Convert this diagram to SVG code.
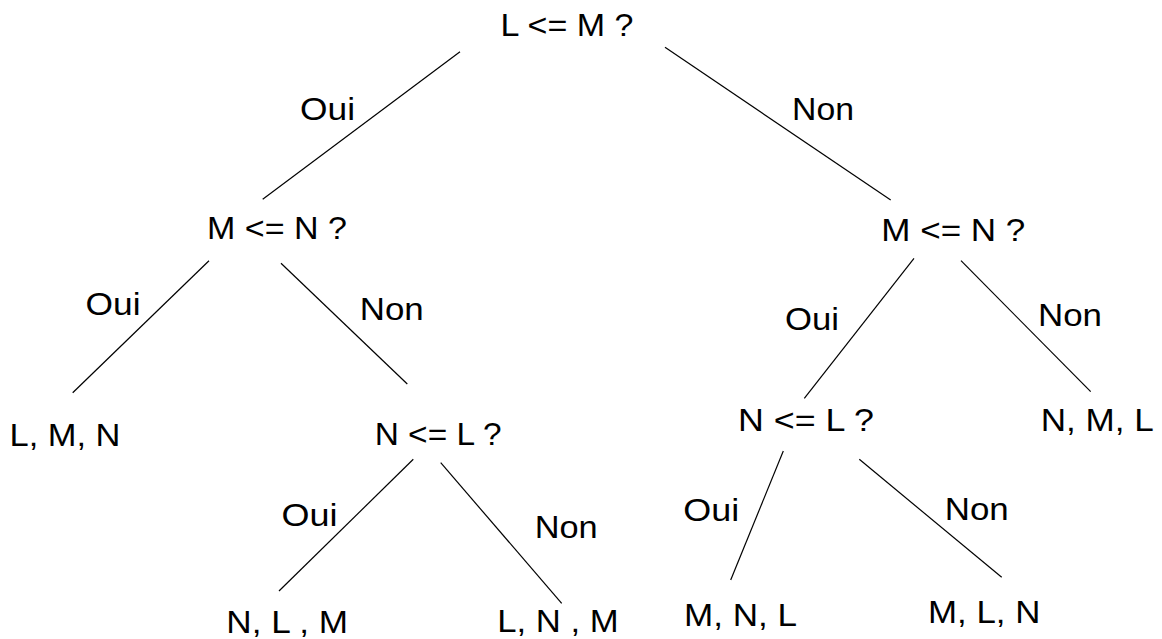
<svg xmlns="http://www.w3.org/2000/svg" width="1162" height="639" viewBox="0 0 1162 639">
<style>
text{font-family:"Liberation Sans",Arial,sans-serif;font-size:31px;fill:#000}
.c line{stroke:#000;stroke-width:1.2;fill:none}
</style>
<rect width="1162" height="639" fill="#fff"/>
<g class="c" id="connectors">
<line x1="460" y1="51.7" x2="262.7" y2="199.3"/>
<line x1="665" y1="47.3" x2="890.7" y2="200"/>
<line x1="209" y1="260.7" x2="72.7" y2="392.7"/>
<line x1="281" y1="263.3" x2="407.3" y2="384"/>
<line x1="413.3" y1="459.3" x2="279" y2="591"/>
<line x1="440.7" y1="462.7" x2="561.7" y2="603.3"/>
<line x1="914" y1="258.3" x2="804.3" y2="398.3"/>
<line x1="961" y1="260.7" x2="1090.7" y2="391.7"/>
<line x1="783.3" y1="451" x2="730.7" y2="580"/>
<line x1="859.3" y1="459.3" x2="1001.7" y2="577.3"/>
</g>
<g id="labels">
<text x="300" y="120.3" textLength="55" lengthAdjust="spacingAndGlyphs">Oui</text>
<text x="792" y="120.3" textLength="62" lengthAdjust="spacingAndGlyphs">Non</text>
<text x="85.5" y="314.5" textLength="55" lengthAdjust="spacingAndGlyphs">Oui</text>
<text x="359.7" y="319.5" textLength="64" lengthAdjust="spacingAndGlyphs">Non</text>
<text x="281.5" y="526.2" textLength="56" lengthAdjust="spacingAndGlyphs">Oui</text>
<text x="534.7" y="537.8" textLength="63" lengthAdjust="spacingAndGlyphs">Non</text>
<text x="785" y="329.5" textLength="54" lengthAdjust="spacingAndGlyphs">Oui</text>
<text x="1038" y="326.2" textLength="64" lengthAdjust="spacingAndGlyphs">Non</text>
<text x="683.2" y="521.2" textLength="56" lengthAdjust="spacingAndGlyphs">Oui</text>
<text x="944.7" y="519.5" textLength="64" lengthAdjust="spacingAndGlyphs">Non</text>
</g>
<g id="n-root"><text x="500.5" y="36.2" textLength="133" lengthAdjust="spacingAndGlyphs">L &lt;= M ?</text></g>
<g id="n-left"><text x="207" y="239" textLength="140" lengthAdjust="spacingAndGlyphs">M &lt;= N ?</text></g>
<g id="n-right"><text x="881.3" y="241.3" textLength="144" lengthAdjust="spacingAndGlyphs">M &lt;= N ?</text></g>
<g id="n-lmn"><text x="9.5" y="445.5" textLength="111" lengthAdjust="spacingAndGlyphs">L, M, N</text></g>
<g id="n-left-nl"><text x="374.7" y="444.7" textLength="127" lengthAdjust="spacingAndGlyphs">N &lt;= L ?</text></g>
<g id="n-right-nl"><text x="738" y="431.3" textLength="136" lengthAdjust="spacingAndGlyphs">N &lt;= L ?</text></g>
<g id="n-nml"><text x="1040.7" y="431.3" textLength="113" lengthAdjust="spacingAndGlyphs">N, M, L</text></g>
<g id="n-nlm"><text x="226.3" y="633" textLength="121.7" lengthAdjust="spacingAndGlyphs">N, L , M</text></g>
<g id="n-lnm"><text x="497.3" y="632.4" textLength="121.4" lengthAdjust="spacingAndGlyphs">L, N , M</text></g>
<g id="n-mnl"><text x="684" y="626.3" textLength="113" lengthAdjust="spacingAndGlyphs">M, N, L</text></g>
<g id="n-mln"><text x="928" y="623" textLength="112.3" lengthAdjust="spacingAndGlyphs">M, L, N</text></g>
</svg>
